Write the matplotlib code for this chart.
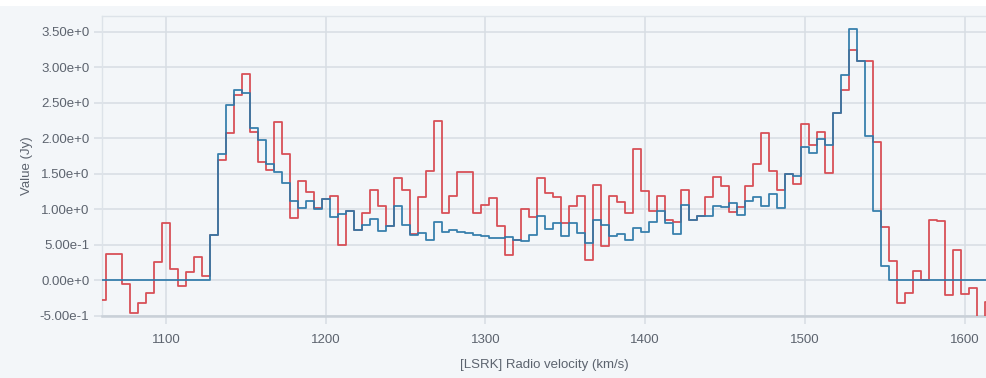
import matplotlib
matplotlib.use("Agg")
import matplotlib.pyplot as plt
import numpy as np
from matplotlib.ticker import FuncFormatter

plt.rcParams['font.family'] = ['Liberation Sans', 'DejaVu Sans']

# Channel velocities (km/s): 1060, 1065, ..., 1615
velocity_start = 1060.0
channel_width = 5.0

red_values = [
    -0.28, 0.37, 0.37, -0.06, -0.46, -0.32, -0.18, 0.26, 0.80, 0.16,
    -0.08, 0.12, 0.32, 0.06, 0.63, 1.69, 2.07, 2.61, 2.91, 2.08,
    1.67, 1.55, 2.23, 1.77, 0.88, 1.40, 1.24, 1.01, 1.14, 1.18,
    0.49, 0.98, 0.71, 0.95, 1.27, 1.04, 0.76, 1.44, 1.27, 0.65,
    1.17, 1.54, 2.24, 0.95, 1.19, 1.52, 1.52, 0.95, 1.06, 1.16,
    0.76, 0.35, 0.57, 1.00, 0.89, 1.44, 1.23, 1.17, 0.81, 1.04,
    1.19, 0.29, 1.34, 0.48, 1.18, 1.10, 0.95, 1.84, 1.25, 0.98,
    1.19, 0.85, 0.82, 1.27, 0.84, 0.90, 1.17, 1.45, 1.32, 0.96,
    1.03, 1.32, 1.63, 2.07, 1.54, 1.27, 1.50, 1.35, 2.20, 1.91,
    2.09, 1.51, 2.35, 2.68, 3.24, 3.09, 3.09, 1.95, 0.75, 0.27,
    -0.32, -0.18, 0.13, 0.00, 0.85, 0.83, -0.21, 0.43, -0.20, -0.11,
    -0.60, -0.31,
]

blue_values = [
    0.00, 0.00, 0.00, 0.00, 0.00, 0.00, 0.00, 0.00, 0.00, 0.00,
    0.00, 0.00, 0.00, 0.00, 0.63, 1.78, 2.46, 2.68, 2.63, 2.14,
    1.97, 1.64, 1.52, 1.37, 1.12, 1.01, 1.11, 1.00, 1.14, 0.89,
    0.93, 0.98, 0.71, 0.77, 0.86, 0.69, 0.76, 1.04, 0.77, 0.64,
    0.67, 0.56, 0.82, 0.68, 0.70, 0.68, 0.66, 0.64, 0.62, 0.60,
    0.59, 0.61, 0.56, 0.55, 0.63, 0.91, 0.72, 0.80, 0.62, 0.80,
    0.67, 0.53, 0.84, 0.78, 0.62, 0.65, 0.57, 0.73, 0.68, 0.82,
    0.97, 0.80, 0.65, 1.06, 0.84, 0.90, 0.90, 1.05, 1.03, 1.08,
    0.92, 1.11, 1.17, 1.04, 1.22, 1.02, 1.50, 1.47, 1.87, 1.79,
    1.99, 1.91, 2.35, 2.89, 3.54, 3.08, 2.03, 0.97, 0.20, 0.00,
    0.00, 0.00, 0.00, 0.00, 0.00, 0.00, 0.00, 0.00, 0.00, 0.00,
    0.00, 0.00,
]

velocity = velocity_start + channel_width * np.arange(len(red_values))

x_ticks = [1100, 1200, 1300, 1400, 1500, 1600]
y_ticks = [-0.5, 0.0, 0.5, 1.0, 1.5, 2.0, 2.5, 3.0, 3.5]

BG = '#f3f6f9'
GRID = '#d7dde4'
TEXT = '#5c636e'

W, H = 986, 378
fig = plt.figure(figsize=(W / 100, H / 100), dpi=100, facecolor=BG)
fig.patches.append(plt.Rectangle((0, 1 - 6 / H), 1, 6 / H, transform=fig.transFigure,
                                 facecolor='white', edgecolor='none', zorder=0))

left, right, top, bottom = 102, 986, 16, 316
ax = fig.add_axes([left / W, 1 - bottom / H, (right - left) / W, (bottom - top) / H])
ax.set_facecolor(BG)

ax.plot(velocity, red_values, drawstyle='steps-mid', color='#d6474f', lw=1.3, alpha=0.95, zorder=3)
ax.plot(velocity, blue_values, drawstyle='steps-mid', color='#2e79a9', lw=1.3, alpha=0.95, zorder=4)

ax.set_xlim(1060, 1613.3)
ax.set_ylim(-0.505, 3.72)
ax.set_xticks(x_ticks)
ax.set_yticks(y_ticks)


def yfmt(v, pos):
    if abs(v) < 1e-12:
        return '0.00e+0'
    exp = int(np.floor(np.log10(abs(v))))
    mant = v / 10 ** exp
    return f'{mant:.2f}e{exp:+d}'


ax.yaxis.set_major_formatter(FuncFormatter(yfmt))
ax.grid(True, color=GRID, lw=1.1, zorder=1)
ax.set_axisbelow(True)
ax.tick_params(axis='both', colors=GRID, labelcolor=TEXT, labelsize=9.5, length=6, width=1.1)
ax.tick_params(axis='x', pad=7)
ax.tick_params(axis='y', pad=3)

for side in ['left', 'top']:
    ax.spines[side].set_color('#dde3e9')
    ax.spines[side].set_linewidth(1.0)
ax.spines['right'].set_visible(False)
ax.spines['bottom'].set_color('#c9d0d8')
ax.spines['bottom'].set_linewidth(1.8)

ax.set_xlabel('[LSRK] Radio velocity (km/s)', color=TEXT, fontsize=9.5, labelpad=9)
ax.set_ylabel('Value (Jy)', color=TEXT, fontsize=9.5, labelpad=5)

fig.savefig('out.png', dpi=100, facecolor=BG)
